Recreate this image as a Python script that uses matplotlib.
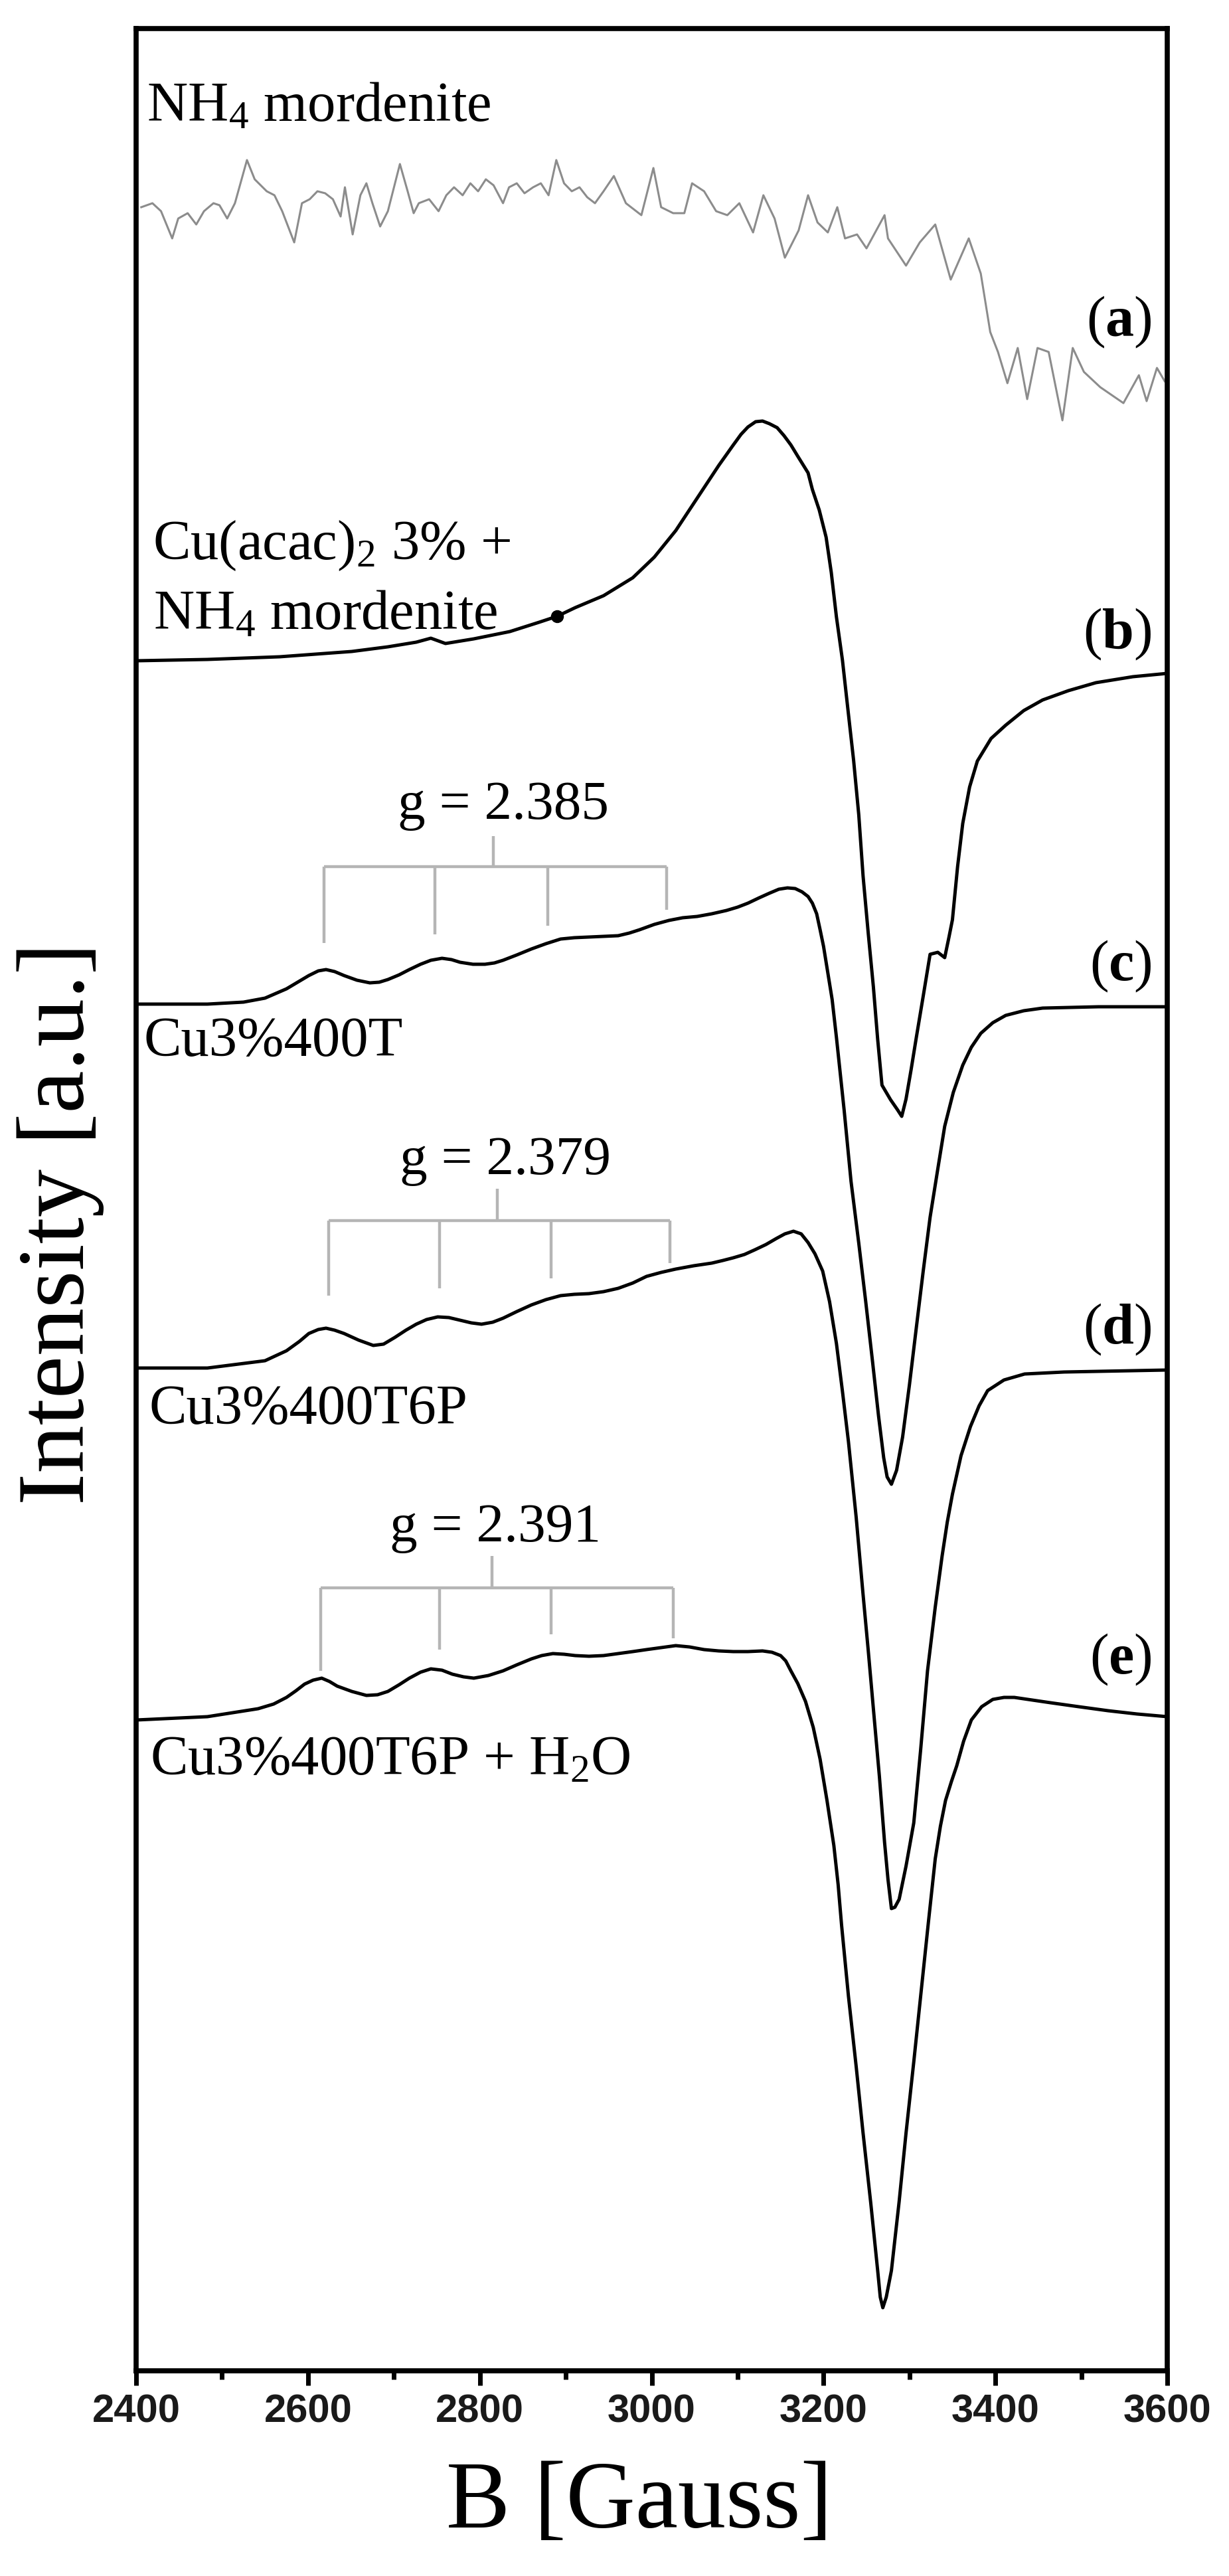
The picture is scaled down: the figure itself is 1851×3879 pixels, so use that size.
import numpy as np
import matplotlib
matplotlib.use("Agg")
import matplotlib.pyplot as plt
from matplotlib.ticker import MultipleLocator

plt.rcParams['font.family'] = ['Liberation Serif', 'DejaVu Serif']
plt.rcParams['mathtext.fontset'] = 'custom'
plt.rcParams['mathtext.rm'] = 'Liberation Serif'
plt.rcParams['mathtext.it'] = 'Liberation Serif:italic'
plt.rcParams['mathtext.bf'] = 'Liberation Serif:bold'

# ---------------- data (B in Gauss, intensity in a.u., offsets included) -------------
a_B = [2406, 2419, 2429, 2442, 2449, 2460, 2470, 2479, 2490, 2497, 2506, 2515, 2529, 2538,
       2552, 2561, 2570, 2584, 2593, 2602, 2611, 2620, 2629, 2638, 2643, 2652, 2661, 2668,
       2675, 2684, 2693, 2707, 2716, 2723, 2729, 2741, 2752, 2761, 2770, 2780, 2789, 2798,
       2807, 2816, 2827, 2834, 2843, 2852, 2862, 2871, 2880, 2889, 2898, 2907, 2916, 2925,
       2934, 2944, 2956, 2970, 2988, 3002, 3011, 3025, 3038, 3047, 3061, 3075, 3088, 3102,
       3118, 3130, 3143, 3155, 3171, 3182, 3193, 3205, 3216, 3225, 3239, 3250, 3271, 3275,
       3296, 3312, 3330, 3348, 3369, 3383, 3394, 3403, 3414, 3426, 3437, 3449, 3462, 3478,
       3490, 3503, 3522, 3549, 3567, 3576, 3588, 3597]
a_I = [325.8, 326.4, 325.2, 321.1, 324.1, 324.9, 323.2, 325.2, 326.4, 326.1, 324.1, 326.4,
       332.9, 330.0, 328.2, 327.6, 325.2, 320.5, 326.4, 327.0, 328.2, 327.9, 327.0, 324.4,
       328.8, 321.7, 327.6, 329.4, 326.4, 322.9, 325.2, 332.3, 328.2, 324.9, 326.4, 327.0,
       325.2, 327.6, 328.8, 327.6, 329.4, 328.2, 330.0, 329.1, 326.4, 328.8, 329.4, 327.9,
       328.8, 329.4, 327.6, 332.9, 329.4, 328.2, 328.8, 327.3, 326.4, 328.2, 330.5, 326.4,
       324.6, 331.7, 325.8, 324.9, 324.9, 329.4, 328.2, 325.2, 324.6, 326.4, 322.0, 327.6,
       324.1, 318.2, 322.3, 327.6, 323.5, 322.0, 325.8, 321.1, 321.7, 319.6, 324.6, 321.1,
       317.0, 320.5, 323.2, 314.9, 321.1, 315.8, 307.0, 304.0, 299.3, 304.6, 296.9, 304.6,
       304.0, 293.7, 304.6, 301.0, 298.7, 296.3, 300.5, 296.6, 301.6, 299.6]

b_B = [2400, 2483, 2567, 2651, 2693, 2726, 2743, 2760, 2793, 2835, 2869, 2890, 2911, 2944,
       2978, 3003, 3028, 3053, 3078, 3095, 3104, 3112, 3121, 3129, 3137, 3146, 3154, 3162,
       3170, 3182, 3187, 3195, 3203, 3209, 3215, 3222, 3228, 3235, 3241, 3246, 3252, 3258,
       3263, 3268, 3278, 3286, 3291, 3296, 3302, 3308, 3316, 3324, 3333, 3341, 3346, 3350,
       3356, 3362, 3370, 3379, 3395, 3412, 3433, 3455, 3485, 3517, 3560, 3600]
b_I = [257.5, 257.7, 258.1, 258.9, 259.6, 260.3, 260.9, 260.1, 260.8, 261.9, 263.3, 264.2,
       265.5, 267.3, 270.0, 273.1, 277.1, 282.0, 286.9, 290.0, 291.6, 292.7, 293.5, 293.6,
       293.2, 292.6, 291.4, 290.0, 288.3, 285.8, 283.3, 280.2, 276.1, 270.8, 264.1, 257.6,
       250.6, 242.5, 234.3, 225.1, 216.5, 208.4, 200.5, 193.6, 191.4, 189.9, 188.9, 191.5,
       196.0, 200.8, 207.0, 213.3, 213.6, 212.8, 215.9, 218.5, 226.5, 233.0, 238.5, 242.4,
       245.8, 247.8, 250.0, 251.6, 253.0, 254.2, 255.1, 255.6]
b_dot = (2890, 264.2)

c_B = [2400, 2483, 2525, 2550, 2575, 2601, 2612, 2621, 2631, 2642, 2657, 2672, 2683, 2693,
       2706, 2718, 2731, 2743, 2756, 2767, 2777, 2792, 2806, 2817, 2827, 2843, 2860, 2877,
       2894, 2910, 2927, 2944, 2961, 2974, 2986, 3003, 3020, 3036, 3053, 3070, 3087, 3100,
       3112, 3125, 3137, 3148, 3158, 3167, 3175, 3182, 3187, 3192, 3196, 3200, 3204, 3210,
       3215, 3224, 3232, 3241, 3249, 3257, 3264, 3270, 3274, 3279, 3285, 3292, 3300, 3308,
       3316, 3324, 3333, 3341, 3351, 3362, 3372, 3383, 3397, 3412, 3433, 3455, 3520, 3600]
c_I = [205.8, 205.8, 206.1, 206.7, 208.1, 210.1, 210.8, 211.0, 210.7, 210.1, 209.4, 209.0,
       209.1, 209.5, 210.2, 211.0, 211.8, 212.4, 212.7, 212.5, 212.1, 211.8, 211.8, 212.0,
       212.4, 213.2, 214.1, 214.9, 215.6, 215.8, 215.9, 216.0, 216.1, 216.5, 217.0, 217.8,
       218.4, 218.8, 219.0, 219.4, 219.9, 220.4, 221.0, 221.8, 222.5, 223.1, 223.3, 223.2,
       222.7, 222.0, 221.0, 219.4, 217.0, 214.5, 211.3, 206.5, 200.8, 189.8, 179.1, 169.8,
       161.1, 152.0, 143.8, 137.5, 134.6, 133.5, 135.6, 140.6, 148.5, 157.1, 165.6, 173.7,
       181.0, 187.4, 192.5, 196.6, 199.3, 201.4, 203.0, 204.1, 204.8, 205.2, 205.4, 205.4]

d_B = [2400, 2483, 2550, 2575, 2590, 2601, 2612, 2621, 2631, 2642, 2659, 2676, 2688, 2701,
       2714, 2726, 2738, 2751, 2764, 2777, 2790, 2802, 2815, 2827, 2843, 2860, 2877, 2894,
       2910, 2927, 2944, 2961, 2978, 2994, 3011, 3028, 3049, 3070, 3083, 3095, 3108, 3120,
       3133, 3145, 3155, 3165, 3174, 3182, 3190, 3199, 3207, 3215, 3222, 3229, 3238, 3246,
       3252, 3258, 3265, 3271, 3275, 3279, 3283, 3288, 3296, 3305, 3313, 3321, 3330, 3338,
       3344, 3350, 3360, 3371, 3381, 3391, 3410, 3434, 3480, 3520, 3600]
d_I = [151.0, 151.0, 152.1, 153.6, 155.0, 156.2, 156.8, 157.0, 156.7, 156.2, 155.2, 154.4,
       154.6, 155.6, 156.7, 157.6, 158.3, 158.7, 158.6, 158.2, 157.8, 157.6, 157.9, 158.5,
       159.5, 160.5, 161.3, 161.9, 162.1, 162.2, 162.5, 163.0, 163.8, 164.8, 165.4, 165.9,
       166.4, 166.8, 167.2, 167.6, 168.1, 168.8, 169.6, 170.5, 171.2, 171.6, 171.2, 169.9,
       168.2, 165.6, 161.0, 154.7, 147.5, 139.9, 128.5, 116.9, 108.5, 99.7, 89.5, 79.6,
       74.0, 69.6, 69.8, 71.0, 76.0, 82.5, 93.5, 105.4, 115.0, 122.7, 127.8, 132.0, 137.8,
       142.2, 145.3, 147.6, 149.2, 150.1, 150.4, 150.5, 150.7]

e_B = [2400, 2483, 2542, 2560, 2575, 2586, 2596, 2606, 2616, 2625, 2634, 2651, 2668, 2681,
       2693, 2706, 2718, 2731, 2743, 2756, 2768, 2781, 2793, 2810, 2827, 2843, 2860, 2872,
       2885, 2898, 2911, 2927, 2944, 2961, 2978, 2994, 3011, 3028, 3044, 3061, 3078, 3095,
       3112, 3129, 3140, 3150, 3156, 3162, 3170, 3179, 3188, 3196, 3204, 3212, 3217, 3221,
       3229, 3238, 3246, 3255, 3263, 3266, 3269, 3273, 3279, 3288, 3296, 3305, 3313, 3322,
       3330, 3336, 3342, 3349, 3355, 3363, 3372, 3384, 3397, 3410, 3422, 3443, 3464, 3497,
       3531, 3565, 3600]
e_I = [98.0, 98.5, 99.7, 100.4, 101.4, 102.4, 103.4, 104.0, 104.3, 103.8, 103.1, 102.3,
       101.7, 101.8, 102.3, 103.3, 104.3, 105.2, 105.7, 105.5, 104.9, 104.5, 104.3, 104.7,
       105.4, 106.3, 107.2, 107.7, 108.0, 107.9, 107.7, 107.6, 107.7, 108.0, 108.3, 108.6,
       108.9, 109.2, 109.0, 108.6, 108.4, 108.3, 108.3, 108.4, 108.2, 107.7, 106.9, 105.4,
       103.5, 100.8, 96.9, 92.1, 85.9, 79.1, 73.2, 67.1, 56.4, 45.8, 35.8, 25.2, 15.1, 11.1,
       9.5, 11.1, 15.1, 25.5, 35.8, 46.5, 56.4, 67.5, 77.1, 82.0, 85.9, 88.8, 91.1, 94.8,
       98.0, 100.0, 101.1, 101.4, 101.4, 101.0, 100.6, 100.0, 99.4, 98.9, 98.5]

# hyperfine bracket annotations: tick positions, tick lower ends, bar level, stem x, stem top
hf_ticks = {
    'c': ([2619, 2748, 2879, 3017], [215.0, 216.3, 217.6, 220.0], 226.5, 2816, 231.1),
    'd': ([2624, 2753, 2883, 3021], [161.9, 163.0, 164.5, 166.8], 173.2, 2820, 178.0),
    'e': ([2615, 2753, 2883, 3025], [105.4, 108.6, 110.9, 110.3], 117.9, 2814, 122.7),
}
g_labels = [("g = 2.385", 2827, 233.8), ("g = 2.379", 2830, 180.3), ("g = 2.391", 2818, 125.0)]

sample_labels = [("NH$_{4}$ mordenite", 2412, 338.9),
                 ("Cu(acac)$_{2}$ 3% +", 2419, 272.9),
                 ("NH$_{4}$ mordenite", 2420, 262.4),
                 ("Cu3%400T", 2409, 198.1),
                 ("Cu3%400T6P", 2415, 142.7),
                 ("Cu3%400T6P + H$_{2}$O", 2416, 89.9)]
letter_labels = [("a", 308.6), ("b", 261.6), ("c", 211.6), ("d", 156.9), ("e", 107.2)]

x_ticks = [2400, 2600, 2800, 3000, 3200, 3400, 3600]

# ---------------- figure -------------
W, H = 1851, 3880
fig = plt.figure(figsize=(W / 100, H / 100), dpi=100)
ax = fig.add_axes([205 / W, 1 - 3571 / H, (1758 - 205) / W, (3571 - 44) / H])

ax.plot(a_B, a_I, color='#8c8c8c', lw=2.2)
for Bs, Is in [(b_B, b_I), (c_B, c_I), (d_B, d_I), (e_B, e_I)]:
    ax.plot(Bs, Is, color='black', lw=3.6, solid_joinstyle='round')
ax.plot([b_dot[0]], [b_dot[1]], 'o', color='black', ms=13)

br_col = '#b5b5b5'
for key, (xs, lows, bar, stem_x, stem_top) in hf_ticks.items():
    ax.plot([xs[0], xs[-1]], [bar, bar], color=br_col, lw=3.2, solid_capstyle='butt')
    for xx, lo in zip(xs, lows):
        ax.plot([xx, xx], [bar, lo], color=br_col, lw=3.2, solid_capstyle='butt')
    ax.plot([stem_x, stem_x], [bar, stem_top], color=br_col, lw=3.2, solid_capstyle='butt')

for txt, xx, yy in g_labels:
    ax.text(xx, yy, txt, ha='center', va='baseline', fontsize=60, color='black')
for txt, xx, yy in sample_labels:
    ax.text(xx, yy, txt, ha='left', va='baseline', fontsize=61, color='black')
for letter, yy in letter_labels:
    ax.text(3582, yy, "($\\mathbf{" + letter + "}$)", ha='right', va='center', fontsize=62,
            color='black')

ax.set_xlim(2400, 3600)
ax.set_ylim(0, 352.7)
ax.set_yticks([])
ax.set_xticks(x_ticks)
ax.xaxis.set_minor_locator(MultipleLocator(100))
ax.tick_params(axis='x', which='major', direction='out', length=16, width=5, pad=8,
               labelsize=43)
ax.tick_params(axis='x', which='minor', direction='out', length=9, width=5)
for lab in ax.get_xticklabels():
    lab.set_fontfamily('Liberation Sans')
    lab.set_fontweight('bold')
    lab.set_color('#1a1a1a')
for sp in ax.spines.values():
    sp.set_linewidth(5.5)
    sp.set_color('black')

fig.text(963 / W, 1 - 3772 / H, "B [Gauss]", ha='center', va='center', fontsize=104)
fig.text(91 / W, 1 - 1842 / H, "Intensity [a.u.]", ha='center', va='center',
         rotation=90, fontsize=104)

fig.savefig("out.png", dpi=100, facecolor='white')
